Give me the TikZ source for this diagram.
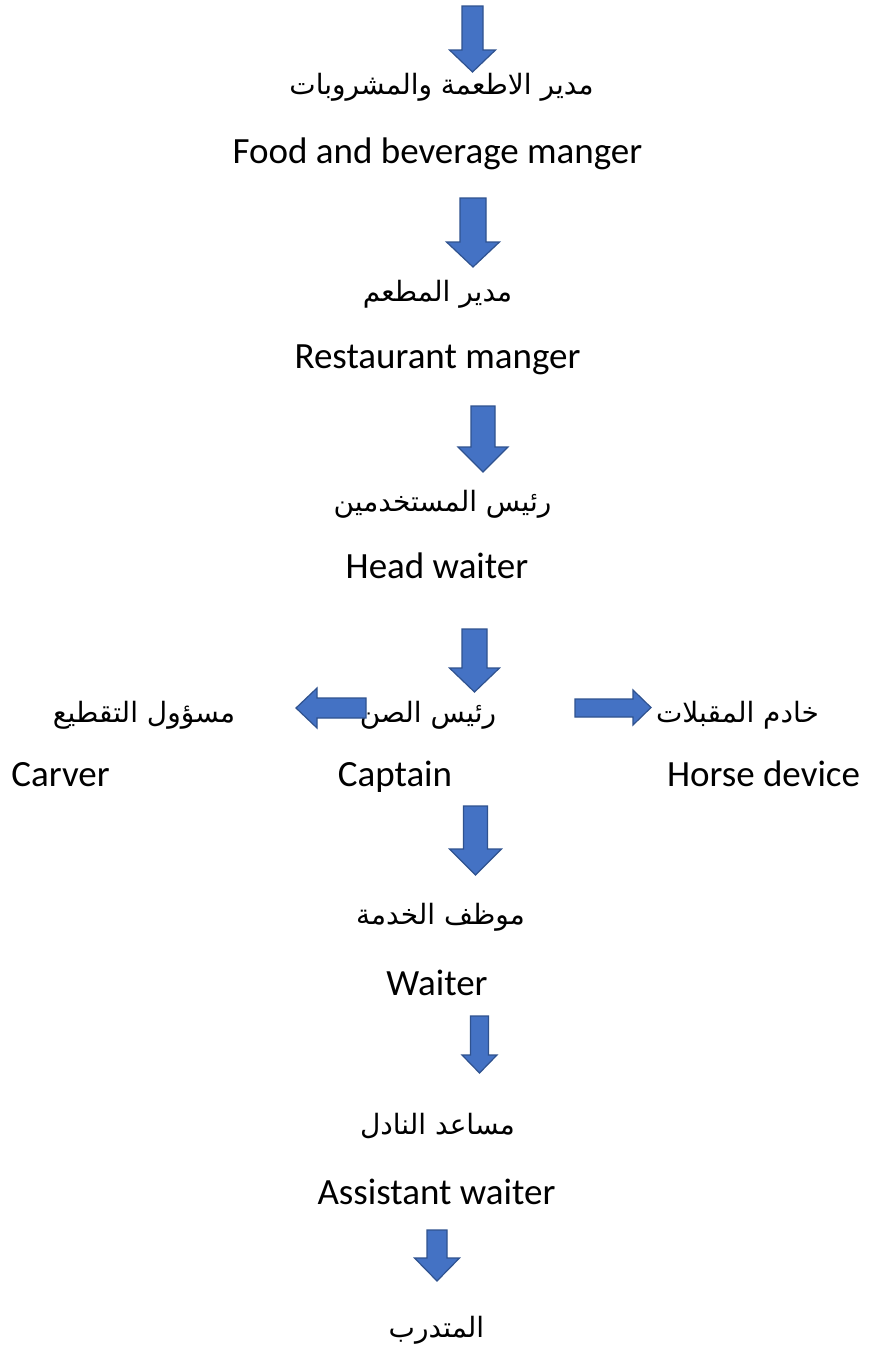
\documentclass[tikz,border=0pt]{standalone}
\usepackage{fontspec}
\setmainfont{Carlito}
\newfontfamily\arabicfont[Script=Arabic]{DejaVu Sans}
\TeXXeTstate=1
\definecolor{arrowfill}{HTML}{4472C4}
\definecolor{arrowline}{HTML}{2F528F}
\newcommand\dnblock[6]{% cx, shaft half width, head half width, top, head start, tip
  \draw[blockarrow] ({#1-#2},#4) -- ({#1+#2},#4) -- ({#1+#2},#5) -- ({#1+#3},#5)
    -- (#1,#6) -- ({#1-#3},#5) -- ({#1-#2},#5) -- cycle;}
\begin{document}
\begin{tikzpicture}[x=1pt,y=-1pt,
  en/.style={anchor=base,inner sep=0pt,font=\fontsize{37}{44}\selectfont},
  ar/.style={anchor=base,inner sep=0pt,font=\arabicfont\fontsize{28}{34}\selectfont},
  blockarrow/.style={fill=arrowfill,draw=arrowline,line width=1.2pt,line join=miter}]
\useasboundingbox (0,0) rectangle (869,1349);
\fill[white] (0,0) rectangle (869,1349);
% texts
\node[ar] (fbAr) at (441.5,94) {\beginR مدير الاطعمة والمشروبات\endR};
\node[en] (fbEn) at (437.5,163) {Food and beverage manger};
\node[ar] (rmAr) at (437.5,301) {\beginR مدير المطعم\endR};
\node[en] (rmEn) at (437.5,368) {Restaurant manger};
\node[ar] (hwAr) at (442.5,511) {\beginR رئيس المستخدمين\endR};
\node[en] (hwEn) at (437,578) {Head waiter};
\node[ar] (caAr) at (428,722) {\beginR رئيس الصن\endR};
\node[ar] (cvAr) at (144,722) {\beginR مسؤول التقطيع\endR};
\node[ar] (hdAr) at (737.5,722) {\beginR خادم المقبلات\endR};
\node[en] (cvEn) at (60.5,786) {Carver};
\node[en] (caEn) at (395,786) {Captain};
\node[en] (hdEn) at (763.5,786) {Horse device};
\node[ar] (wtAr) at (440.5,924) {\beginR موظف الخدمة\endR};
\node[en] (wtEn) at (437,995) {Waiter};
\node[ar] (awAr) at (437.5,1134) {\beginR مساعد النادل\endR};
\node[en] (awEn) at (436.5,1204) {Assistant waiter};
\node[ar] (trAr) at (436.5,1337) {\beginR المتدرب\endR};
% block arrows
\dnblock{472.5}{10.5}{23}{6}{50}{72}
\dnblock{473}{13}{26.5}{198}{242}{267}
\dnblock{483}{12}{25}{406}{447}{472}
\dnblock{474.5}{12.5}{25}{629}{668}{692}
\dnblock{475.5}{12}{26}{806}{849}{875}
\dnblock{479.5}{9}{17.5}{1016}{1055}{1073}
\dnblock{437}{10}{22.5}{1230}{1258}{1281}
\draw[blockarrow] (366,698) -- (317,698) -- (317,688) -- (296,708) -- (317,728) -- (317,718) -- (366,718) -- cycle;
\draw[blockarrow] (575,699) -- (633,699) -- (633,690) -- (651,707.5) -- (633,725) -- (633,717) -- (575,717) -- cycle;
\end{tikzpicture}
\end{document}
